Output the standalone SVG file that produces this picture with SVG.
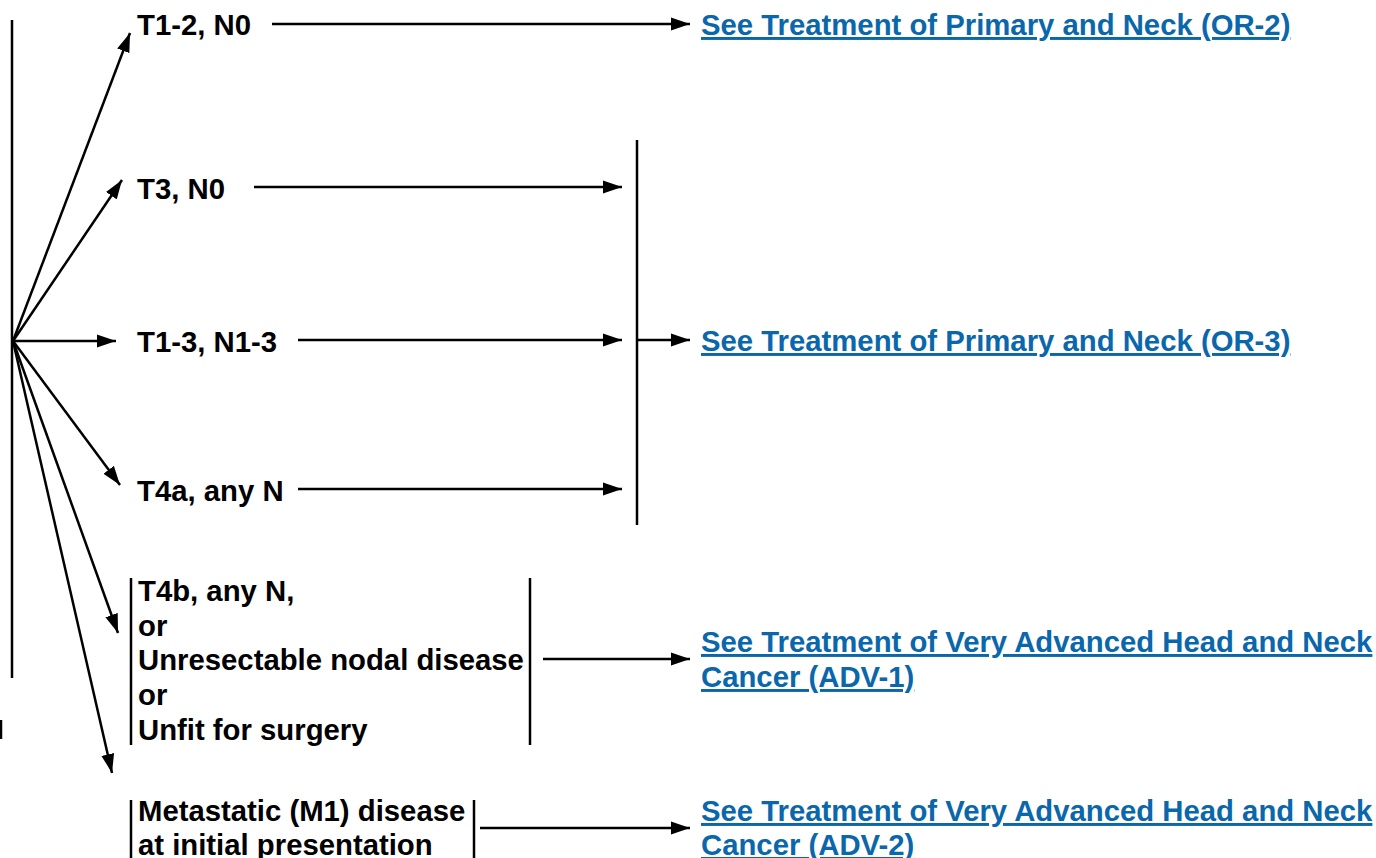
<svg xmlns="http://www.w3.org/2000/svg" width="1376" height="858" viewBox="0 0 1376 858">
  <defs>
    <marker id="arrow" markerUnits="userSpaceOnUse" markerWidth="19" markerHeight="14" refX="19" refY="7" orient="auto">
      <path d="M0,0.5 L19,7 L0,13.5 Z" fill="#000"/>
    </marker>
    <style>
      .ln { stroke: #000; stroke-width: 2.5; fill: none; }
      .arr { stroke: #000; stroke-width: 2.5; fill: none; marker-end: url(#arrow); }
      .lbl { font-family: "Liberation Sans", Arial, sans-serif; font-weight: bold; font-size: 29.3px; fill: #000; }
      .link { font-family: "Liberation Sans", Arial, sans-serif; font-weight: bold; font-size: 29.3px; fill: #0b67ab; text-decoration: underline; }
    </style>
  </defs>
  <rect width="1376" height="858" fill="#fff"/>

  <!-- connectors -->
  <g id="connectors">
    <line class="ln" x1="12" y1="20" x2="12" y2="678"/>
    <line class="ln" x1="1" y1="720" x2="1" y2="739"/>
    <line class="arr" x1="13" y1="341" x2="130" y2="33"/>
    <line class="arr" x1="13" y1="341" x2="122" y2="180"/>
    <line class="arr" x1="13" y1="341" x2="116" y2="341"/>
    <line class="arr" x1="13" y1="341" x2="120" y2="485"/>
    <line class="arr" x1="13" y1="341" x2="118" y2="633"/>
    <line class="arr" x1="13" y1="341" x2="112" y2="773"/>

    <line class="arr" x1="272" y1="24" x2="690" y2="24"/>
    <line class="arr" x1="254" y1="187" x2="622" y2="187"/>
    <line class="arr" x1="298" y1="340" x2="622" y2="340"/>
    <line class="arr" x1="298" y1="489" x2="622" y2="489"/>
    <line class="ln" x1="637" y1="140" x2="637" y2="525"/>
    <line class="arr" x1="637" y1="340" x2="690" y2="340"/>
    <line class="arr" x1="543" y1="659" x2="690" y2="659"/>
    <line class="arr" x1="480" y1="828" x2="690" y2="828"/>
  </g>

  <g id="n-t12n0"><text class="lbl" x="137" y="35">T1-2, N0</text></g>
  <g id="n-t3n0"><text class="lbl" x="137" y="199">T3, N0</text></g>
  <g id="n-t13n13"><text class="lbl" x="137" y="352">T1-3, N1-3</text></g>
  <g id="n-t4a"><text class="lbl" x="137" y="501">T4a, any N</text></g>

  <g id="n-t4b">
    <line class="ln" x1="131" y1="578" x2="131" y2="745"/>
    <line class="ln" x1="530" y1="578" x2="530" y2="745"/>
    <text class="lbl" x="138" y="601">T4b, any N,</text>
    <text class="lbl" x="138" y="636">or</text>
    <text class="lbl" x="138" y="670">Unresectable nodal disease</text>
    <text class="lbl" x="138" y="705">or</text>
    <text class="lbl" x="138" y="740">Unfit for surgery</text>
  </g>

  <g id="n-m1">
    <line class="ln" x1="131" y1="800" x2="131" y2="858"/>
    <line class="ln" x1="474" y1="800" x2="474" y2="858"/>
    <text class="lbl" x="138" y="821">Metastatic (M1) disease</text>
    <text class="lbl" x="138" y="855">at initial presentation</text>
  </g>

  <g id="n-or2"><text class="link" x="701" y="35">See Treatment of Primary and Neck (OR-2)</text></g>
  <g id="n-or3"><text class="link" x="701" y="351">See Treatment of Primary and Neck (OR-3)</text></g>
  <g id="n-adv1">
    <text class="link" x="701" y="652">See Treatment of Very Advanced Head and Neck</text>
    <text class="link" x="701" y="687">Cancer (ADV-1)</text>
  </g>
  <g id="n-adv2">
    <text class="link" x="701" y="821">See Treatment of Very Advanced Head and Neck</text>
    <text class="link" x="701" y="855">Cancer (ADV-2)</text>
  </g>
</svg>
